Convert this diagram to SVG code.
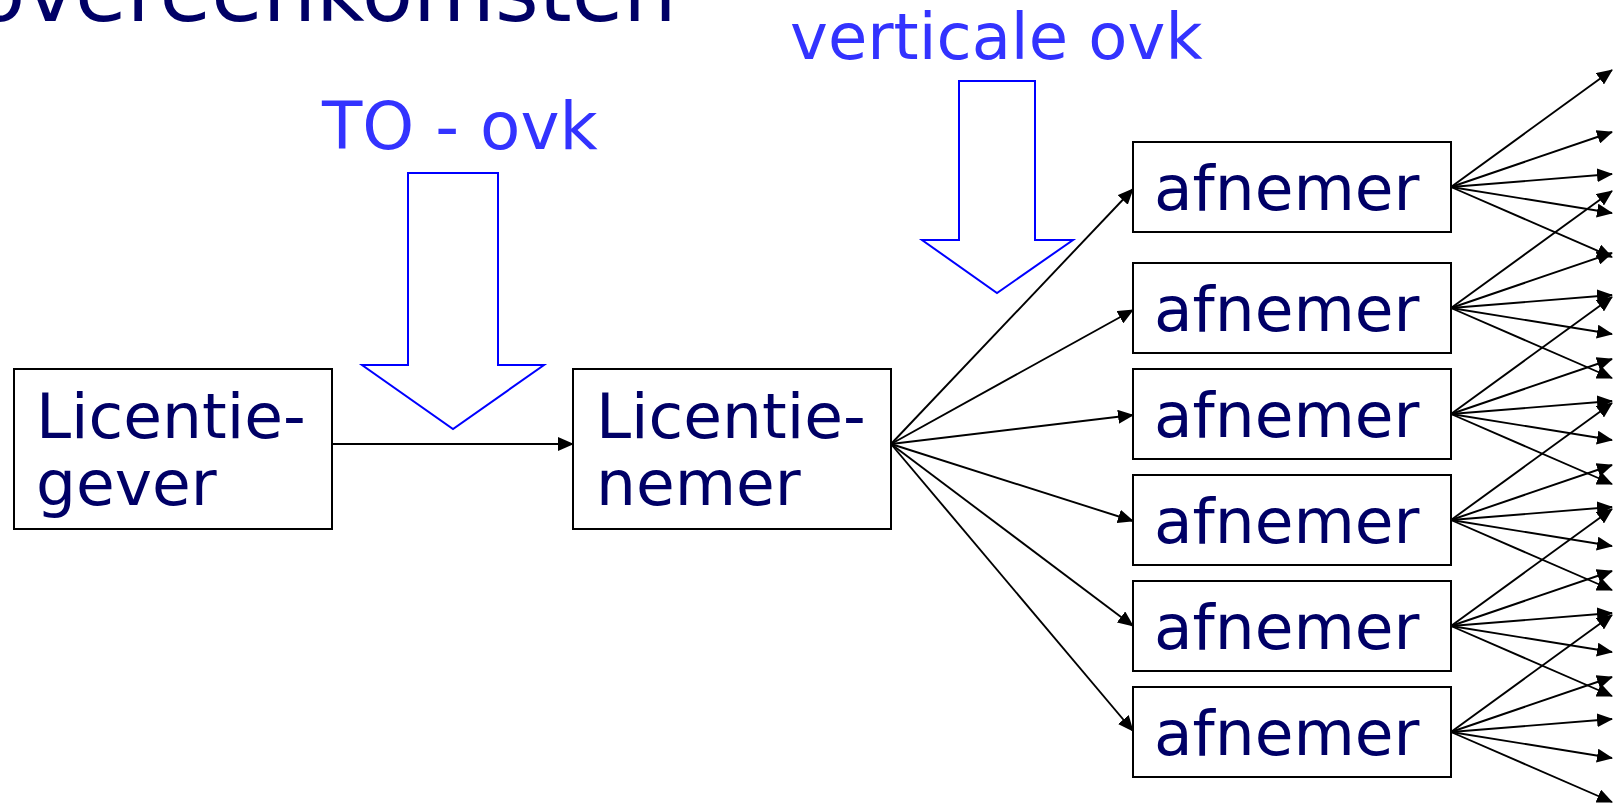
<svg xmlns="http://www.w3.org/2000/svg" width="1613" height="809" viewBox="0 0 1613 809">
<style>
.box{fill:#fff;stroke:#000;stroke-width:2}
.lbl{font-family:"DejaVu Sans","Liberation Sans",sans-serif;font-size:63px;fill:#000066}
.blue{font-family:"DejaVu Sans","Liberation Sans",sans-serif;fill:#3333ff}
.title{font-family:"DejaVu Sans","Liberation Sans",sans-serif;font-size:84px;fill:#000066}
.bigarrow{fill:none;stroke:#0000ff;stroke-width:2}
.con line{stroke:#000;stroke-width:1.9;marker-end:url(#ah)}
</style>
<defs>
<marker id="ah" viewBox="0 0 16 14" refX="15" refY="7" markerWidth="16" markerHeight="14" markerUnits="userSpaceOnUse" orient="auto"><path d="M0,0 L16,7 L0,14 z" fill="#000"/></marker>
</defs>
<rect width="1613" height="809" fill="#fff"/>
<text class="title" x="-26" y="21">overeenkomsten</text>

<g id="label-to">
<text class="blue" x="322" y="149" font-size="66">TO - ovk</text>
<polygon class="bigarrow" points="408,173 498,173 498,365 544,365 453,429 362,365 408,365"/>
</g>
<g id="label-verticaal">
<text class="blue" x="790" y="59" font-size="64">verticale ovk</text>
<polygon class="bigarrow" points="959,81 1035,81 1035,240 1073,240 997,293 922,240 959,240"/>
</g>

<g class="con" id="connectors">
<line x1="332" y1="444" x2="573" y2="444"/>
<line x1="891" y1="444" x2="1133" y2="189"/>
<line x1="891" y1="444" x2="1133" y2="310"/>
<line x1="891" y1="444" x2="1133" y2="415"/>
<line x1="891" y1="444" x2="1133" y2="521"/>
<line x1="891" y1="444" x2="1133" y2="626"/>
<line x1="891" y1="444" x2="1133" y2="731"/>
<line x1="1451" y1="187" x2="1612" y2="70"/>
<line x1="1451" y1="187" x2="1612" y2="132"/>
<line x1="1451" y1="187" x2="1612" y2="174"/>
<line x1="1451" y1="187" x2="1612" y2="213"/>
<line x1="1451" y1="187" x2="1612" y2="257"/>
<line x1="1451" y1="308" x2="1612" y2="191"/>
<line x1="1451" y1="308" x2="1612" y2="253"/>
<line x1="1451" y1="308" x2="1612" y2="295"/>
<line x1="1451" y1="308" x2="1612" y2="334"/>
<line x1="1451" y1="308" x2="1612" y2="378"/>
<line x1="1451" y1="414" x2="1612" y2="297"/>
<line x1="1451" y1="414" x2="1612" y2="359"/>
<line x1="1451" y1="414" x2="1612" y2="401"/>
<line x1="1451" y1="414" x2="1612" y2="440"/>
<line x1="1451" y1="414" x2="1612" y2="484"/>
<line x1="1451" y1="520" x2="1612" y2="403"/>
<line x1="1451" y1="520" x2="1612" y2="465"/>
<line x1="1451" y1="520" x2="1612" y2="507"/>
<line x1="1451" y1="520" x2="1612" y2="546"/>
<line x1="1451" y1="520" x2="1612" y2="590"/>
<line x1="1451" y1="626" x2="1612" y2="509"/>
<line x1="1451" y1="626" x2="1612" y2="571"/>
<line x1="1451" y1="626" x2="1612" y2="613"/>
<line x1="1451" y1="626" x2="1612" y2="652"/>
<line x1="1451" y1="626" x2="1612" y2="696"/>
<line x1="1451" y1="732" x2="1612" y2="615"/>
<line x1="1451" y1="732" x2="1612" y2="677"/>
<line x1="1451" y1="732" x2="1612" y2="719"/>
<line x1="1451" y1="732" x2="1612" y2="758"/>
<line x1="1451" y1="732" x2="1612" y2="802"/>
</g>

<g id="licentiegever">
<rect class="box" x="14" y="369" width="318" height="160"/>
<text class="lbl" x="36" y="438">Licentie-</text>
<text class="lbl" x="36" y="505">gever</text>
</g>
<g id="licentienemer">
<rect class="box" x="573" y="369" width="318" height="160"/>
<text class="lbl" x="596" y="438">Licentie-</text>
<text class="lbl" x="596" y="505">nemer</text>
</g>
<g id="afnemer1"><rect class="box" x="1133" y="142" width="318" height="90"/><text class="lbl" x="1154" y="210">afnemer</text></g>
<g id="afnemer2"><rect class="box" x="1133" y="263" width="318" height="90"/><text class="lbl" x="1154" y="331">afnemer</text></g>
<g id="afnemer3"><rect class="box" x="1133" y="369" width="318" height="90"/><text class="lbl" x="1154" y="437">afnemer</text></g>
<g id="afnemer4"><rect class="box" x="1133" y="475" width="318" height="90"/><text class="lbl" x="1154" y="543">afnemer</text></g>
<g id="afnemer5"><rect class="box" x="1133" y="581" width="318" height="90"/><text class="lbl" x="1154" y="649">afnemer</text></g>
<g id="afnemer6"><rect class="box" x="1133" y="687" width="318" height="90"/><text class="lbl" x="1154" y="755">afnemer</text></g>
</svg>
